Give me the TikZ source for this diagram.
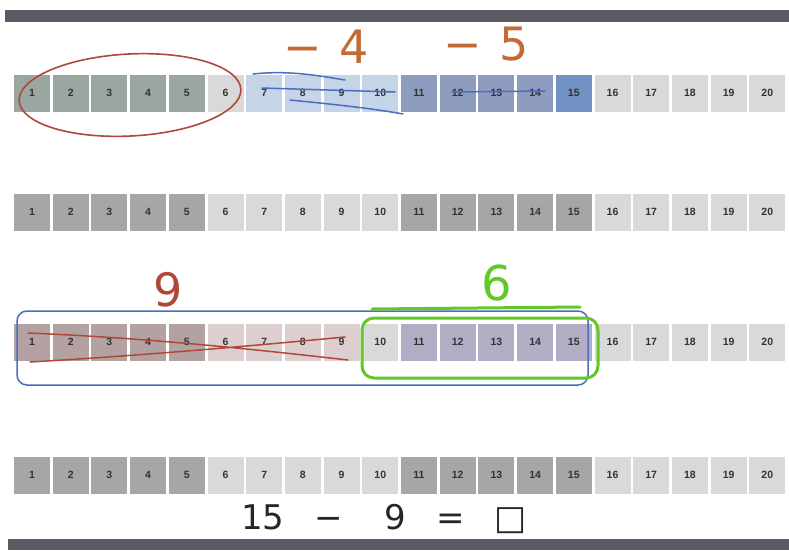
\documentclass[tikz,border=0pt]{standalone}
\usepackage{fontspec}
\setmainfont{Liberation Sans}
\newfontfamily\handfont{DejaVu Sans}
\definecolor{bardark}{HTML}{5A5A64}
\definecolor{celldark}{HTML}{A6A6A6}
\definecolor{celllight}{HTML}{D9D9D9}
\definecolor{numcol}{HTML}{333333}
\definecolor{inkred}{HTML}{B0483A}
\definecolor{inkorange}{HTML}{C46A34}
\definecolor{inkblue}{HTML}{4A6EC0}
\definecolor{inkgreen}{HTML}{62C828}
\definecolor{blueA}{HTML}{C6D4EA}
\definecolor{blueB}{HTML}{8E9CC0}
\definecolor{blueC}{HTML}{7190C4}
\definecolor{rowonegray}{HTML}{9CA6A0}
\definecolor{pinkA}{HTML}{B4A2A2}
\definecolor{pinkB}{HTML}{DDCFCF}
\definecolor{lavA}{HTML}{B2ACC4}
\begin{document}
\begin{tikzpicture}[x=1pt,y=-1pt,
  cellbox/.style={minimum width=36pt,minimum height=37pt,inner sep=0pt,
    text=numcol,font=\fontsize{10.5}{10.5}\selectfont\bfseries},
  handred/.style={text=inkred,font=\handfont\fontsize{46}{46}\selectfont},
  handorange/.style={text=inkorange,font=\handfont\fontsize{46}{46}\selectfont},
  handgreen/.style={text=inkgreen,font=\handfont\fontsize{48}{48}\selectfont},
  handblack/.style={text=black!85,font=\handfont\fontsize{34}{34}\selectfont},
  bar/.style={fill=bardark,draw=none}]
\useasboundingbox (0,0) rectangle (789,550);
\fill[white] (0,0) rectangle (789,550);
% bars
\path[bar] (5,10) rectangle (789,22);
\path[bar] (8,539) rectangle (789,550);
% rows of cells
\foreach \r/\yc in {1/93,2/212,3/342,4/475}{
  \foreach \i in {1,...,20}{
    \pgfmathsetmacro{\xc}{32+(\i-1)*38.7}
    \ifnum\i<6 \def\cc{celldark}\else
      \ifnum\i<11 \def\cc{celllight}\else
        \ifnum\i<16 \def\cc{celldark}\else \def\cc{celllight}\fi\fi\fi
    \node[cellbox,fill=\cc] (r\r c\i) at (\xc,\yc) {\i};
  }
}
% row 1 tints
\foreach \i in {1,...,5}{\node[cellbox,fill=rowonegray] at (r1c\i) {\i};}
\foreach \i in {7,...,10}{\node[cellbox,fill=blueA] at (r1c\i) {\i};}
\foreach \i in {11,...,14}{\node[cellbox,fill=blueB] at (r1c\i) {\i};}
\node[cellbox,fill=blueC] at (r1c15) {15};
% row 3 tints
\foreach \i in {1,...,5}{\node[cellbox,fill=pinkA] at (r3c\i) {\i};}
\foreach \i in {6,...,9}{\node[cellbox,fill=pinkB] at (r3c\i) {\i};}
\foreach \i in {11,...,15}{\node[cellbox,fill=lavA] at (r3c\i) {\i};}
% row 1 annotations
\draw[inkred,line width=1.6pt,rotate around={3:(130,95)}] (130,95) ellipse (111pt and 41pt);
\draw[inkblue,line width=1.5pt,line cap=round]
  (253,74) .. controls (290,70) and (320,76) .. (345,80)
  (262,88) -- (395,92)
  (290,100) .. controls (330,104) and (370,108) .. (403,114);
\draw[inkblue,line width=1.5pt,line cap=round] (452,92) -- (545,91);
\node[handorange] (m4) at (326,47) {−\hspace{18pt}4};
\node[handorange] (m5) at (486,44) {−\hspace{18pt}5};
% row 3 annotations
\draw[inkblue,line width=1.5pt,rounded corners=10pt] (17,311) rectangle (588,385);
\draw[inkred,line width=1.5pt,line cap=round]
  (28,333) .. controls (150,338) and (260,350) .. (348,360)
  (30,362) .. controls (150,355) and (260,345) .. (345,337);
\node[handred] (n9) at (168,290) {9};
\draw[inkgreen,line width=3pt,rounded corners=12pt] (362,318) rectangle (598,378);
\draw[inkgreen,line width=3pt,line cap=round] (372,309) -- (580,307);
\node[handgreen] (n6) at (497,283) {6};
% row 4 annotation
\node[handblack] (eq) at (384,519) {15\hspace{30pt}−\hspace{42pt}9\hspace{30pt}=\hspace{30pt}□};
\end{tikzpicture}
\end{document}
